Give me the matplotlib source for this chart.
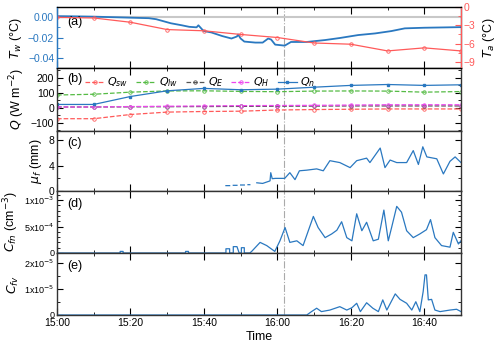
import numpy as np
import matplotlib
matplotlib.use("Agg")
import matplotlib.pyplot as plt
from matplotlib.ticker import MultipleLocator, FixedLocator

# time in minutes after 15:00
tw_t = [0, 5, 10, 15, 20, 25, 27, 31, 34, 36, 38, 38.5, 39.5, 40, 42, 45, 47.5, 49, 49.3, 50, 51,
        54, 56, 57.5, 58.3, 59.4, 62, 63.7, 68, 73, 77, 82, 86.6, 91, 94.7, 100, 110]
tw_v = [0.001, 0.0008, 0.0005, 0.0, -0.0005, -0.001, -0.002, -0.006, -0.008, -0.0095, -0.010, -0.008,
        -0.012, -0.0137, -0.015, -0.0186, -0.021, -0.019, -0.017, -0.021, -0.024,
        -0.025, -0.025, -0.021, -0.022, -0.027, -0.028, -0.0244, -0.0244, -0.0225, -0.0205, -0.0176,
        -0.016, -0.0137, -0.011, -0.0104, -0.0098]

q_t = [0, 10, 20, 30, 40, 50, 60, 70, 80, 90, 100, 110]
ta = [-1.7, -1.8, -2.5, -3.7, -3.9, -4.5, -5.0, -5.9, -6.1, -7.2, -6.7, -7.2]
q_sw = [-73, -73, -45, -29, -25, -23, -15, -12, -10, -8, -8, -8]
q_lw = [85, 90, 104, 112, 113, 109, 107, 111, 112, 111, 104, 108]
q_e = [5, 5, 6, 7, 8, 9, 10, 11, 12, 12, 12, 12]
q_h = [5, 5, 8, 10, 12, 14, 15, 16, 18, 20, 20, 20]
q_n = [22, 22, 75, 113, 129, 120, 124, 137, 149, 155, 149, 153]

mu_t = [46, 47, np.nan, 48, 49, np.nan, 50, 51, np.nan, 52, 52.5, np.nan,
        54.4, 56, 58, 58.2, 58.6, 59.5, 62, 63.4, 64.8, 66, 68, 70.7, 72.5, 74.3, 77, 79.8, 81.6,
        84.3, 85.2, 88, 89.3, 90.7, 92.5, 95.2, 97, 98.4, 99.6, 100.7, 103.4, 105.2, 107, 108.4, 110]
mu_v = [0.85, 0.85, np.nan, 0.9, 0.9, np.nan, 0.95, 0.95, np.nan, 1.0, 1.0, np.nan,
        1.3, 1.2, 1.6, 2.9, 1.95, 2.0, 2.0, 2.9, 1.8, 3.2, 3.3, 3.5, 3.2, 4.8, 4.5, 3.7, 4.8,
        5.2, 4.5, 6.8, 3.7, 4.9, 4.5, 4.5, 6.4, 4.2, 7.0, 5.4, 5.1, 2.7, 4.7, 5.4, 4.5]

cfn_t = [0, 17.2, 17.2, 18, 18, 35, 35, 35.8, 35.8, 46, 46, 47, 47, 48, 48, 49, 49.6, 50.2, 50.2,
         51, 51, 52.5, 53, 55.3, 57.1, 59.3, 60.7, 62.1, 63.4, 65.3, 67, 69.8, 71.1, 73, 74.8, 76.2,
         77.5, 78.9, 80.3, 81.6, 83, 84.3, 86.1, 87.5, 89, 90.2, 91.1, 92.5, 93.8, 95.2, 97, 98.8,
         100.6, 101.7, 102.9, 104.7, 107, 107.9, 109.3, 110]
cfn_v = [0, 0, 3e-5, 3e-5, 0, 0, 3e-5, 3e-5, 0, 0, 8e-5, 8e-5, 0, 0, 1.2e-4, 1.2e-4, 0, 0, 1e-4,
         1e-4, 0, 0, 3e-5, 2.0e-4, 1.4e-4, 0.3e-4, 2.3e-4, 4.8e-4, 2.0e-4, 2.3e-4, 1.4e-4, 6.9e-4,
         4.8e-4, 2.9e-4, 3.6e-4, 4.3e-4, 5.9e-4, 2.9e-4, 2.3e-4, 7.4e-4, 4.2e-4, 5.8e-4, 2.3e-4,
         2.6e-4, 8.1e-4, 2.3e-4, 4.8e-4, 8.8e-4, 7.7e-4, 4.2e-4, 2.9e-4, 3.6e-4, 4.4e-4, 6.3e-4,
         2.9e-4, 1.4e-4, 1.1e-4, 3.9e-4, 1.7e-4, 2.3e-4]

cfv_t = [0, 68, 69.3, 70.7, 72, 74.3, 77, 78.9, 80.3, 81.6, 82.6, 84.3, 86, 87.5, 88.7, 89.8, 92.1,
         93.4, 95.2, 96.6, 97.7, 98.8, 99.7, 100.2, 100.6, 101.1, 102, 102.9, 104.3, 107, 108.8, 110]
cfv_v = [0, 0, 0.13e-5, 0.26e-5, 0.13e-5, 0.19e-5, 0.32e-5, 0.19e-5, 0.28e-5, 0.45e-5, 0.13e-5,
         0.47e-5, 0.26e-5, 0.13e-5, 0.58e-5, 0.19e-5, 0.81e-5, 0.6e-5, 0.45e-5, 0.19e-5, 0.51e-5,
         0.13e-5, 0.9e-5, 1.54e-5, 1.54e-5, 0.58e-5, 0.6e-5, 0.19e-5, 0.13e-5, 0.19e-5, 0.22e-5,
         0.13e-5]

xticks = [0, 20, 40, 60, 80, 100]
xlabels = ["15:00", "15:20", "15:40", "16:00", "16:20", "16:40"]
event_t = 61.8

blue = "#2a78c0"
red = "#ff5a5a"

plt.rcParams["font.family"] = "Liberation Sans"
fig = plt.figure(figsize=(5, 3.47), dpi=100)
tops = [7, 68, 131, 191, 253, 315]
axes = []
for i in range(5):
    b = 1 - tops[i + 1] / 347
    h = (tops[i + 1] - tops[i]) / 347
    ax = fig.add_axes([0.114, b, 0.808, h])
    axes.append(ax)

for i, ax in enumerate(axes):
    ax.set_xlim(0, 110)
    ax.xaxis.set_major_locator(FixedLocator(xticks))
    ax.xaxis.set_minor_locator(MultipleLocator(10))
    ax.tick_params(which="both", direction="in", top=True, right=True, labelsize=7.5, pad=2)
    ax.tick_params(which="major", length=4, width=0.8)
    ax.tick_params(which="minor", length=2, width=0.6)
    ax.tick_params(axis="x", which="major", length=5)
    if i < 4:
        ax.set_xticklabels([])
    else:
        ax.set_xticklabels(xlabels)
    ax.axvline(event_t, color="#aaaaaa", ls="-.", lw=0.8)
    for s in ax.spines.values():
        s.set_color("#333333")
        s.set_linewidth(1.0)

# (a)
ax = axes[0]
ax.axhline(0, color="#c8c8c8", lw=1.5)
ax.plot(tw_t, tw_v, color=blue, lw=1.3)
ax.set_ylim(-0.05, 0.01)
ax.set_yticks([-0.04, -0.02, 0.00])
ax.set_yticklabels(["\u22120.04", "\u22120.02", "0.00"])
ax.yaxis.set_minor_locator(MultipleLocator(0.01))
ax.tick_params(axis="y", which="both", colors=blue, right=False)
ax.spines["left"].set_color(blue)
ax.set_ylabel("$T_w$ (°C)", fontsize=9, labelpad=3)
ax.text(0.025, 0.7, "(a)", transform=ax.transAxes, fontsize=9)
ax2 = ax.twinx()
ax2.plot(q_t, ta, color=red, lw=0.9, marker="o", ms=2.5, mfc="none", mew=0.6)
ax2.set_ylim(-10, 0)
ax2.set_yticks([0, -3, -6, -9])
ax2.set_yticklabels(["0", "\u22123", "\u22126", "\u22129"])
ax2.yaxis.set_minor_locator(MultipleLocator(1.5))
ax2.tick_params(axis="y", which="both", direction="in", colors=red, labelsize=7.5, pad=2)
ax2.tick_params(which="major", length=4)
ax2.tick_params(which="minor", length=2)
ax2.spines["right"].set_color(red)
ax2.spines["left"].set_color(blue)
ax2.set_ylabel("$T_a$ (°C)", fontsize=9)

# (b)
ax = axes[1]
ax.plot(q_t, q_sw, color=red, ls="--", lw=0.9, marker="o", ms=2.5, mfc="none", mew=0.6, label="$Q_{sw}$")
ax.plot(q_t, q_lw, color="#55bb44", ls="--", lw=0.9, marker="o", ms=2.5, mfc="none", mew=0.6, label="$Q_{lw}$")
ax.plot(q_t, q_e, color="#555555", ls="--", lw=0.9, marker="o", ms=2.5, mfc="none", mew=0.6, label="$Q_E$")
ax.plot(q_t, q_h, color="#ee44ee", ls="--", lw=0.9, marker="o", ms=2.5, mfc="none", mew=0.6, label="$Q_H$")
ax.plot(q_t, q_n, color=blue, lw=0.9, marker="s", ms=2, label="$Q_n$")
ax.set_ylim(-155, 265)
ax.set_yticks([-100, 0, 100, 200])
ax.set_yticklabels(["\u2212100", "0", "100", "200"])
ax.yaxis.set_minor_locator(MultipleLocator(50))
ax.set_ylabel("$Q$ (W m$^{-2}$)", fontsize=9, labelpad=3)
ax.text(0.025, 0.78, "(b)", transform=ax.transAxes, fontsize=9)
ax.legend(loc="upper left", bbox_to_anchor=(0.045, 1.04), ncol=5, frameon=False, fontsize=8,
          handlelength=1.7, columnspacing=0.7, handletextpad=0.3)

# (c)
ax = axes[2]
ax.plot(mu_t, mu_v, color=blue, lw=0.9)
ax.set_ylim(0, 9.5)
ax.set_yticks([0, 4, 8])
ax.yaxis.set_minor_locator(MultipleLocator(2))
ax.set_ylabel("$\\mu_f$ (mm)", fontsize=9, labelpad=3)
ax.text(0.025, 0.75, "(c)", transform=ax.transAxes, fontsize=9)

# (d)
ax = axes[3]
ax.plot(cfn_t, cfn_v, color=blue, lw=0.9)
ax.set_ylim(0, 1.17e-3)
ax.set_yticks([0, 5e-4, 1e-3])
ax.set_yticklabels(["0", "5x10$^{-4}$", "1x10$^{-3}$"], fontsize=6.5)
ax.yaxis.set_minor_locator(MultipleLocator(1e-4))
ax.set_ylabel("$C_{fn}$ (cm$^{-3}$)", fontsize=9, labelpad=2)
ax.text(0.025, 0.75, "(d)", transform=ax.transAxes, fontsize=9)

# (e)
ax = axes[4]
ax.plot(cfv_t, cfv_v, color=blue, lw=0.9)
ax.set_ylim(0, 2.38e-5)
ax.set_yticks([0, 1e-5, 2e-5])
ax.set_yticklabels(["0", "1x10$^{-5}$", "2x10$^{-5}$"], fontsize=6.5)
ax.yaxis.set_minor_locator(MultipleLocator(0.5e-5))
ax.set_ylabel("$C_{fv}$", fontsize=9, labelpad=2)
ax.text(0.025, 0.75, "(e)", transform=ax.transAxes, fontsize=9)
ax.set_xlabel("Time", fontsize=9, labelpad=2)

fig.align_ylabels(axes)
fig.savefig("out.png", dpi=100)
